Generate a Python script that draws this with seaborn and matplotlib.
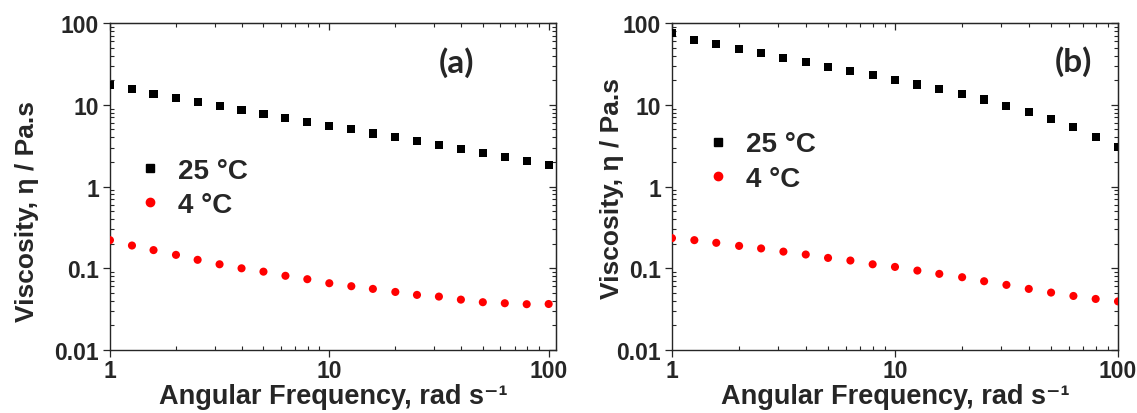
import pandas as pd
import seaborn as sns
import matplotlib.pyplot as plt
from matplotlib.lines import Line2D
from matplotlib.ticker import LogLocator, FormatStrFormatter

freq = [1, 1.26, 1.58, 2, 2.51, 3.16, 3.98, 5.01, 6.31, 7.94, 10,
        12.6, 15.8, 20, 25.1, 31.6, 39.8, 50.1, 63.1, 79.4, 100]

eta25_a = [17.5, 15.4, 13.6, 12.2, 10.8, 9.6, 8.6, 7.7, 6.9, 6.2, 5.5,
           5.0, 4.45, 4.0, 3.58, 3.2, 2.86, 2.55, 2.28, 2.03, 1.82]
eta4_a = [0.221, 0.190, 0.167, 0.146, 0.127, 0.112, 0.100, 0.091, 0.081, 0.0736, 0.0657,
          0.0604, 0.056, 0.0514, 0.0473, 0.0451, 0.0414, 0.0385, 0.0374, 0.0364, 0.0366]

eta25_b = [74.7, 62.5, 55.3, 48.4, 42.5, 37.6, 33.0, 29.2, 26.1, 22.9, 20.2,
           17.7, 15.5, 13.5, 11.6, 9.7, 8.1, 6.65, 5.31, 4.08, 3.05]
eta4_b = [0.234, 0.221, 0.205, 0.188, 0.175, 0.160, 0.1475, 0.134, 0.1245, 0.112, 0.104,
          0.0938, 0.0855, 0.0778, 0.0695, 0.0627, 0.056, 0.0505, 0.0459, 0.0422, 0.0394]

temps = ['25 °C', '4 °C']
panel_labels = ['(a)', '(b)']

sns.set_style('ticks')
plt.rcParams['font.family'] = ['Liberation Sans', 'DejaVu Sans']
plt.rcParams['font.weight'] = 'bold'

palette = {'25 °C': 'black', '4 °C': 'red'}
markers = {'25 °C': 's', '4 °C': 'o'}

fig = plt.figure(figsize=(11.37, 4.14), dpi=100)
ax_a = fig.add_axes([0.0967, 0.152, 0.3923, 0.790])
ax_b = fig.add_axes([0.591, 0.152, 0.3923, 0.790])

panels = [
    (ax_a, eta25_a, eta4_a, 108, (0.0585, 0.588), (0.778, 0.881), (-0.16, 0.428)),
    (ax_b, eta25_b, eta4_b, 100, (0.072, 0.669), (0.899, 0.884), (-0.108, 0.498)),
]

for i, (ax, e25, e4, xmax, leg_pos, lab_pos, ylab_pos) in enumerate(panels):
    df = pd.DataFrame({
        'freq': freq + freq,
        'eta': e25 + e4,
        'T': [temps[0]] * len(freq) + [temps[1]] * len(freq),
    })
    sns.scatterplot(data=df, x='freq', y='eta', hue='T', style='T',
                    palette=palette, markers=markers, s=34, linewidth=0,
                    legend=False, ax=ax, zorder=3)
    ax.set_xscale('log')
    ax.set_yscale('log')
    ax.set_xlim(1, xmax)
    ax.set_ylim(0.01, 100)
    ax.xaxis.set_major_formatter(FormatStrFormatter('%g'))
    ax.yaxis.set_major_formatter(FormatStrFormatter('%g'))
    ax.tick_params(which='major', direction='out', length=5, width=0.9, labelsize=16.5, pad=3)
    ax.tick_params(axis='x', which='major', pad=1.5)
    ax.tick_params(which='minor', direction='in', length=3, width=0.8)
    for sp in ax.spines.values():
        sp.set_linewidth(1.0)
        sp.set_visible(True)

    top = ax.secondary_xaxis('top')
    top.xaxis.set_major_locator(LogLocator(base=10))
    top.tick_params(which='major', direction='in', length=5, width=0.9, labeltop=False)
    top.tick_params(which='minor', direction='in', length=3, width=0.8)
    right = ax.secondary_yaxis('right')
    right.yaxis.set_major_locator(LogLocator(base=10))
    right.tick_params(which='major', direction='in', length=5, width=0.9, labelright=False)
    right.tick_params(which='minor', direction='in', length=3, width=0.8)

    ax.set_xlabel('Angular Frequency, rad s\u207b\u00b9', fontsize=19.5, fontweight='bold', labelpad=0.5)
    ax.set_ylabel('Viscosity, η / Pa.s', fontsize=19, fontweight='bold')
    ax.yaxis.set_label_coords(*ylab_pos)

    handles = [Line2D([], [], linestyle='none', marker=markers[t], color=palette[t],
                      markersize=6) for t in temps]
    ax.legend(handles, temps, loc='upper left', bbox_to_anchor=leg_pos,
              frameon=False, borderpad=0, borderaxespad=0, handlelength=1,
              handletextpad=0.5, labelspacing=0.3,
              prop={'size': 20, 'weight': 'bold'})

    ax.text(lab_pos[0], lab_pos[1], panel_labels[i], transform=ax.transAxes,
            ha='center', va='center', fontsize=24, fontweight='bold',
            family=['Lato', 'DejaVu Sans'])

fig.savefig('out.png', dpi=100)
